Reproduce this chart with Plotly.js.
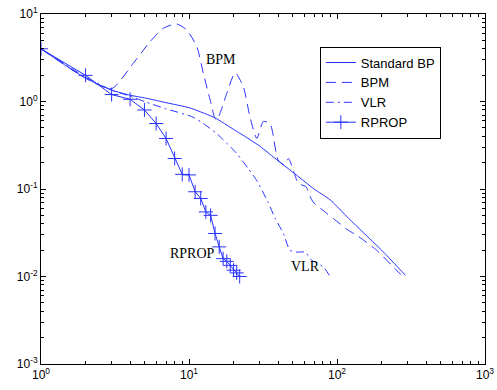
<!DOCTYPE html>
<html>
<head>
<meta charset="utf-8">
<script src="https://cdn.plot.ly/plotly-3.0.1.min.js"></script>
<style>html,body{margin:0;padding:0;background:#fff;}#chart{width:497px;height:390px;}</style>
</head>
<body>
<div id="chart"></div>
<script>
// Standard BP
const stdX = [1,2,3,4,5,7,10,12,15,20,25,30,40,53,70,90,120,150,200,250,290];
const stdY = [4,1.85,1.35,1.18,1.1,0.97,0.85,0.76,0.65,0.48,0.38,0.31,0.21,0.145,0.1,0.075,0.046,0.032,0.02,0.0135,0.0103];
// BPM
const bpmX = [1,2,3,4.2,5.45,6.7,8.26,9.65,11.3,12.5,13.9,15,15.5,16.5,18,20.5,23.3,25.8,28.7,31.8,35.3,40,44,47,52,54.6,61.9,64.6,69,83,94.5,119,136,185,246,270];
const bpmY = [4,1.85,1.4,2.73,4.82,6.86,7.7,6.56,4.23,2.1,1.04,0.64,0.62,0.8,1.24,2.13,1.47,0.67,0.378,0.59,0.56,0.214,0.19,0.223,0.144,0.116,0.106,0.088,0.071,0.0547,0.046,0.0338,0.0296,0.02,0.0123,0.0105];
// VLR
const vlrX = [1,2,3,4,5,6.9,10.5,12.5,15.4,21,25.2,28.7,34.3,38,43.4,48,53,61,67.5,73,81,90];
const vlrY = [4,1.9,1.35,1.15,1.0,0.83,0.67,0.56,0.43,0.255,0.17,0.125,0.07,0.047,0.031,0.02,0.019,0.019,0.0153,0.0143,0.0128,0.01];
// RPROP
const rpX = [1,2,3,4,5,6,7,8,9,10,11,12,13,14,15,16,17,18,19,20,21,22];
const rpY = [4,1.99,1.2,1.06,0.80,0.56,0.378,0.223,0.147,0.145,0.093,0.078,0.0547,0.05,0.031,0.0218,0.016,0.0149,0.0134,0.0118,0.011,0.01];

const names = ['Standard BP','BPM','VLR','RPROP'];
// tick labels
const xTickVals = [1,10,100,1000];
const xTickText = ['10<sup>0</sup>','10<sup>1</sup>','10<sup>2</sup>','10<sup>3</sup>'];
const yTickVals = [0.001,0.01,0.1,1,10];
const yTickText = ['10<sup>-3</sup>','10<sup>-2</sup>','10<sup>-1</sup>','10<sup>0</sup>','10<sup>1</sup>'];
const minorDigits = [2,3,4,5,6,7,8,9];

function minorVals(decades) {
  const out = [];
  decades.forEach(d => minorDigits.forEach(m => out.push(m * d)));
  return out;
}

const col = 'rgb(40,50,255)';

const traces = [
  {x: stdX, y: stdY, name: names[0], mode: 'lines', line: {color: col, width: 1, shape: 'spline', smoothing: 0.6}},
  {x: bpmX, y: bpmY, name: names[1], mode: 'lines', line: {color: col, width: 1, dash: '10px,6px', shape: 'spline', smoothing: 0.6}},
  {x: vlrX, y: vlrY, name: names[2], mode: 'lines', line: {color: col, width: 1, dash: '8px,4px,2px,4px', shape: 'spline', smoothing: 0.5}},
  {x: rpX, y: rpY, name: names[3], mode: 'lines+markers', line: {color: col, width: 1},
   marker: {symbol: 'cross-thin', size: 10, color: col, line: {width: 1, color: col}}}
];

const font = {family: 'Liberation Sans, Arial, sans-serif', size: 12, color: '#000'};

const axisCommon = {
  type: 'log', showgrid: false, zeroline: false,
  showline: true, linecolor: '#000', linewidth: 1, mirror: 'ticks',
  ticks: 'inside', ticklen: 5, tickwidth: 1, tickcolor: '#000', tickfont: font
};
// overlay axes carrying only the minor ticks
const minorAxis = {
  type: 'log', showgrid: false, zeroline: false, showline: false, mirror: 'ticks',
  ticks: 'inside', ticklen: 3, tickwidth: 1, tickcolor: '#000', showticklabels: false,
  tickmode: 'array'
};

const layout = {
  width: 497, height: 390,
  margin: {l: 41, r: 12, t: 14, b: 26},
  paper_bgcolor: '#fff', plot_bgcolor: '#fff',
  showlegend: true,
  legend: {x: 0.628, y: 0.907, xanchor: 'left', yanchor: 'top',
    bordercolor: '#000', borderwidth: 1, bgcolor: '#fff',
    font: {family: 'Liberation Sans, Arial, sans-serif', size: 13, color: '#000'},
    tracegroupgap: 0},
  xaxis: Object.assign({}, axisCommon, {range: [0, 3], tickmode: 'array', tickvals: xTickVals, ticktext: xTickText}),
  yaxis: Object.assign({}, axisCommon, {range: [-3, 1], tickmode: 'array', tickvals: yTickVals, ticktext: yTickText}),
  xaxis2: Object.assign({}, minorAxis, {overlaying: 'x', anchor: 'y', side: 'bottom', range: [0, 3], tickvals: minorVals([1,10,100])}),
  yaxis2: Object.assign({}, minorAxis, {overlaying: 'y', anchor: 'x', side: 'left', range: [-3, 1], tickvals: minorVals([0.001,0.01,0.1,1])}),
  annotations: [
    {text: 'BPM', xref: 'paper', yref: 'paper', x: 0.405, y: 0.897, showarrow: false,
     font: {family: 'Liberation Serif, Times New Roman, serif', size: 14, color: '#000'}},
    {text: 'RPROP', xref: 'paper', yref: 'paper', x: 0.342, y: 0.289, showarrow: false,
     font: {family: 'Liberation Serif, Times New Roman, serif', size: 14, color: '#000'}},
    {text: 'VLR', xref: 'paper', yref: 'paper', x: 0.595, y: 0.251, showarrow: false,
     font: {family: 'Liberation Serif, Times New Roman, serif', size: 14, color: '#000'}}
  ]
};

// an invisible helper trace registers the minor-tick overlay axes
traces.push({x: [1], y: [1], xaxis: 'x2', yaxis: 'y2', mode: 'markers', marker: {opacity: 0}, showlegend: false, hoverinfo: 'skip'});

Plotly.newPlot('chart', traces, layout, {displayModeBar: false, staticPlot: true});
</script>
</body>
</html>
